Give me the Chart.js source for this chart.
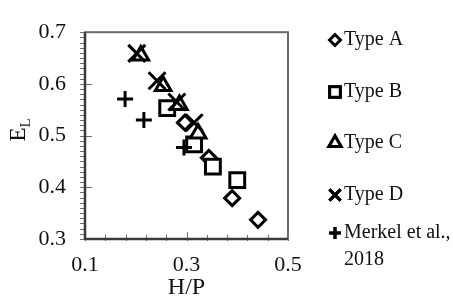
<!DOCTYPE html>
<html lang="en">
<head>
  <meta charset="UTF-8" />
  <title>E_L vs H/P</title>
  <script src="https://cdn.jsdelivr.net/npm/chart.js"></script>
  <style>
    html, body {
      margin: 0;
      padding: 0;
      background: #ffffff;
    }
    #wrap {
      width: 453px;
      height: 299px;
      position: relative;
    }
  </style>
</head>
<body>
  <div id="wrap"><canvas id="grafico"></canvas></div>

  <script>
    // data
    const typeA_x = [0.297, 0.344, 0.390, 0.441];
    const typeA_y = [0.525, 0.457, 0.379, 0.337];
    const typeB_x = [0.262, 0.315, 0.352, 0.400];
    const typeB_y = [0.553, 0.483, 0.440, 0.414];
    const typeC_x = [0.210, 0.254, 0.286, 0.323];
    const typeC_y = [0.655, 0.596, 0.559, 0.504];
    const typeD_x = [0.202, 0.242, 0.281, 0.315];
    const typeD_y = [0.659, 0.606, 0.565, 0.525];
    const merkel_x = [0.179, 0.216, 0.295];
    const merkel_y = [0.571, 0.530, 0.477];

    const seriesLabels = ["Type A", "Type B", "Type C", "Type D", ["Merkel et al.,", "2018"]];
    const xTickLabels = [0.1, 0.3, 0.5];
    const yTickLabels = [0.3, 0.4, 0.5, 0.6, 0.7];
    const xTitle = "H/P";
    const yTitleMain = "E";
    const yTitleSub = "L";

    const FONT = "'Liberation Serif', 'DejaVu Serif', serif";

    function punti(xs, ys) {
      return xs.map((x, i) => ({ x: x, y: ys[i] }));
    }

    const stili = [
      { style: "rectRot", r: 7.5 },
      { style: "rect", r: 10.5 },
      { style: "triangle", r: 9 },
      { style: "crossRot", r: 12 },
      { style: "cross", r: 8 }
    ];
    const serie = [
      punti(typeA_x, typeA_y),
      punti(typeB_x, typeB_y),
      punti(typeC_x, typeC_y),
      punti(typeD_x, typeD_y),
      punti(merkel_x, merkel_y)
    ];

    const datasets = serie.map((d, i) => ({
      label: Array.isArray(seriesLabels[i]) ? seriesLabels[i].join(" ") : seriesLabels[i],
      data: d,
      pointStyle: stili[i].style,
      pointRadius: stili[i].r,
      pointHoverRadius: stili[i].r,
      pointBorderWidth: 3,
      borderColor: "#000",
      backgroundColor: "#fff",
      order: 5 - i
    }));

    // frame, minor ticks, y title with subscript, legend
    const extra = {
      id: "extra",
      beforeDatasetsDraw(chart) {
        const ctx = chart.ctx;
        const a = chart.chartArea;
        const sx = chart.scales.x, sy = chart.scales.y;
        ctx.save();
        // box
        ctx.strokeStyle = "#6a6a6a";
        ctx.lineWidth = 2;
        ctx.strokeRect(a.left, a.top, a.right - a.left, a.bottom - a.top);
        // tick marks
        ctx.strokeStyle = "#707070";
        ctx.lineWidth = 1;
        for (let i = 0; i <= 40; i++) {
          const v = 0.3 + i * 0.01;
          const p = Math.round(sy.getPixelForValue(v)) + 0.5;
          const major = i % 10 === 0;
          ctx.beginPath();
          ctx.moveTo(a.left - 5, p);
          ctx.lineTo(a.left + (major ? 7 : 0), p);
          ctx.stroke();
        }
        for (let i = 0; i <= 10; i++) {
          const v = 0.1 + i * 0.04;
          const p = Math.round(sx.getPixelForValue(v)) + 0.5;
          const major = i % 5 === 0;
          ctx.beginPath();
          ctx.moveTo(p, a.bottom + 2);
          ctx.lineTo(p, a.bottom - (major ? 7 : 4));
          ctx.stroke();
        }
        // left and bottom axis lines darker
        ctx.strokeStyle = "#3a3a3a";
        ctx.lineWidth = 2.5;
        ctx.beginPath();
        ctx.moveTo(a.left, a.top);
        ctx.lineTo(a.left, a.bottom);
        ctx.lineTo(a.right, a.bottom);
        ctx.stroke();
        ctx.restore();
      },
      afterDraw(chart) {
        const ctx = chart.ctx;
        ctx.save();
        // y title E_L
        ctx.fillStyle = "#111";
        ctx.translate(18, 130);
        ctx.rotate(-Math.PI / 2);
        ctx.textBaseline = "alphabetic";
        ctx.font = "23px " + FONT;
        const wE = ctx.measureText(yTitleMain).width;
        ctx.font = "15px " + FONT;
        const wL = ctx.measureText(yTitleSub).width;
        const x0 = -(wE + wL) / 2;
        ctx.font = "23px " + FONT;
        ctx.fillText(yTitleMain, x0, 7);
        ctx.font = "15px " + FONT;
        ctx.fillText(yTitleSub, x0 + wE, 12);
        ctx.restore();

        // legend
        ctx.save();
        const ys = [40, 92, 143, 195, 233];
        const lr = [5.5, 7.5, 7, 8, 6];
        seriesLabels.forEach((lab, i) => {
          const y = ys[i];
          Chart.helpers.drawPoint(ctx, {
            pointStyle: stili[i].style,
            radius: lr[i],
            borderWidth: 3
          }, 335, y);
          ctx.lineWidth = 3;
          ctx.strokeStyle = "#000";
          ctx.fillStyle = "#fff";
          ctx.fill();
          ctx.stroke();
          ctx.fillStyle = "#111";
          ctx.font = "20px " + FONT;
          ctx.textBaseline = "middle";
          const righe = Array.isArray(lab) ? lab : [lab];
          righe.forEach((t, k) => ctx.fillText(t, 344, y + k * 27));
        });
        ctx.restore();
      }
    };

    new Chart(document.getElementById("grafico"), {
      type: "scatter",
      data: { datasets: datasets },
      options: {
        responsive: true,
        maintainAspectRatio: false,
        animation: false,
        events: [],
        layout: { padding: { left: 0, right: 165, top: 22, bottom: 0 } },
        plugins: {
          legend: { display: false },
          tooltip: { enabled: false }
        },
        scales: {
          x: {
            type: "linear",
            min: 0.1,
            max: 0.5,
            afterBuildTicks(scale) {
              scale.ticks = xTickLabels.map(v => ({ value: v }));
            },
            afterFit(scale) { scale.height = 60; },
            grid: { display: false, drawTicks: false },
            border: { display: false },
            ticks: {
              padding: 13,
              color: "#111",
              font: { family: FONT, size: 22 },
              callback: v => v.toFixed(1)
            },
            title: {
              display: true,
              text: xTitle,
              color: "#111",
              padding: { top: 0, bottom: -3 },
              font: { family: FONT, size: 24 }
            }
          },
          y: {
            type: "linear",
            min: 0.3,
            max: 0.7,
            afterBuildTicks(scale) {
              scale.ticks = yTickLabels.map(v => ({ value: v }));
            },
            afterFit(scale) { scale.width = 85; },
            grid: { display: false, drawTicks: false },
            border: { display: false },
            ticks: {
              padding: 19,
              color: "#111",
              font: { family: FONT, size: 22 },
              callback: v => v.toFixed(1)
            }
          }
        }
      },
      plugins: [extra]
    });
  </script>
</body>
</html>
